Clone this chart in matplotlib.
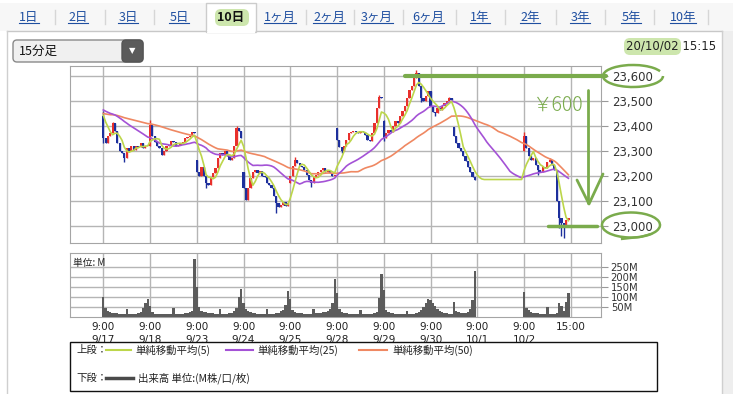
import numpy as np
import pandas as pd
import matplotlib
matplotlib.use("Agg")
import matplotlib.pyplot as plt
from matplotlib.patches import Rectangle, FancyBboxPatch, Arc
from matplotlib.transforms import blended_transform_factory

JP = ['Noto Sans CJK JP', 'DejaVu Sans']
plt.rcParams['font.family'] = ['DejaVu Sans', 'Noto Sans CJK JP']

# ---------------- data ----------------
day_labels = ["9/17", "9/18", "9/23", "9/24", "9/25", "9/28", "9/29", "9/30", "10/1", "10/2"]
bars_per_day = 20
price_ticks = [23000, 23100, 23200, 23300, 23400, 23500, 23600]
volume_ticks = [50, 100, 150, 200, 250]
tab_labels = ["1日", "2日", "3日", "5日", "10日", "1ヶ月", "2ヶ月", "3ヶ月", "6ヶ月",
              "1年", "2年", "3年", "5年", "10年"]
selected_tab = "10日"

# 15-min closes before 9/17 (history that the moving averages start from)
prior_closes = [23450, 23440, 23430, 23420, 23430, 23425, 23435, 23440, 23430, 23420,
                23430, 23440, 23445, 23440, 23430, 23425, 23430, 23435, 23440, 23445,
                23450, 23445, 23440, 23435, 23440,
                23460, 23470, 23475, 23480, 23470, 23465, 23460, 23455, 23460, 23470,
                23475, 23470, 23465, 23460, 23465, 23470, 23475, 23480, 23475, 23470,
                23465, 23460, 23465, 23470]

close_0917 = [23350, 23330, 23360, 23370, 23410, 23380, 23330, 23300, 23290, 23270,
              23310, 23300, 23320, 23305, 23320, 23315, 23330, 23310, 23320, 23320]
close_0918 = [23405, 23360, 23335, 23320, 23310, 23285, 23300, 23320, 23325, 23340,
              23335, 23320, 23325, 23330, 23335, 23350, 23355, 23360, 23375, 23370]
close_0923 = [23215, 23200, 23235, 23200, 23170, 23165, 23195, 23210, 23230, 23270,
              23290, 23285, 23300, 23280, 23265, 23270, 23320, 23390, 23380, 23350]
close_0924 = [23150, 23105, 23150, 23190, 23215, 23225, 23210, 23220, 23200, 23195,
              23170, 23165, 23150, 23120, 23090, 23075, 23085, 23095, 23080, 23090]
close_0925 = [23200, 23240, 23265, 23250, 23240, 23235, 23225, 23205, 23185, 23170,
              23195, 23205, 23215, 23225, 23230, 23215, 23225, 23210, 23200, 23205]
close_0928 = [23345, 23315, 23300, 23320, 23345, 23370, 23375, 23380, 23375, 23370,
              23380, 23375, 23365, 23345, 23340, 23370, 23410, 23470, 23515, 23510]
close_0929 = [23350, 23370, 23385, 23375, 23400, 23420, 23410, 23440, 23460, 23480,
              23510, 23545, 23560, 23590, 23612, 23560, 23510, 23500, 23520, 23540]
close_0930 = [23480, 23455, 23450, 23470, 23465, 23480, 23490, 23500, 23510, 23505,
              23360, 23330, 23310, 23300, 23280, 23260, 23235, 23215, 23195, 23185]
close_1001 = [23185] * 20   # no trading: price held flat
close_1002 = [23360, 23310, 23280, 23265, 23270, 23245, 23225, 23215, 23235, 23230,
              23255, 23265, 23245, 23225, 23100, 23030, 23010, 23005, 23025, 23030]

# opens that differ from the previous close (gaps)
open_gaps = {("9/17", 0): 23440, ("9/23", 0): 23265, ("9/24", 0): 23215,
             ("9/25", 0): 23170, ("9/28", 0): 23390, ("9/29", 0): 23420,
             ("9/30", 10): 23395, ("10/2", 0): 23300}
# visible wick extremes (high, low)
wick_extremes = {("9/17", 0): (23460, 23330), ("9/17", 4): (23415, 23370),
                 ("9/17", 9): (23290, 23255), ("9/18", 0): (23425, 23320),
                 ("9/23", 4): (23200, 23150), ("9/23", 17): (23400, 23320),
                 ("9/24", 14): (23120, 23050), ("9/25", 2): (23275, 23240),
                 ("9/25", 9): (23185, 23155), ("9/28", 2): (23315, 23290),
                 ("9/28", 18): (23522, 23470), ("9/29", 0): (23425, 23340),
                 ("9/29", 14): (23622, 23590), ("9/29", 16): (23560, 23495),
                 ("9/30", 2): (23455, 23440), ("9/30", 8): (23515, 23500),
                 ("10/2", 0): (23375, 23300), ("10/2", 6): (23245, 23205),
                 ("10/2", 11): (23272, 23255), ("10/2", 15): (23100, 22990),
                 ("10/2", 16): (23030, 22960), ("10/2", 17): (23010, 22950)}

vol_0917 = [100, 42, 30, 25, 20, 18, 17, 15, 14, 14, 37, 14, 12, 12, 14, 18, 25, 42, 67, 88]
vol_0918 = [55, 22, 14, 12, 12, 11, 11, 12, 12, 13, 45, 15, 12, 12, 14, 16, 18, 22, 30, 290]
vol_0923 = [150, 50, 30, 25, 22, 20, 18, 16, 15, 15, 38, 15, 13, 14, 16, 20, 28, 45, 100, 137]
vol_0924 = [70, 37, 28, 22, 18, 16, 15, 14, 14, 14, 37, 14, 13, 14, 16, 20, 26, 35, 58, 128]
vol_0925 = [90, 35, 25, 20, 18, 16, 15, 15, 14, 14, 37, 16, 18, 20, 22, 25, 30, 40, 70, 188]
vol_0928 = [117, 40, 25, 20, 17, 15, 14, 14, 13, 13, 35, 14, 12, 12, 13, 15, 18, 25, 94, 213]
vol_0929 = [133, 32, 22, 18, 16, 15, 14, 14, 13, 13, 28, 14, 13, 14, 16, 22, 32, 50, 70, 88]
vol_0930 = [85, 70, 52, 38, 28, 22, 18, 16, 15, 14, 72, 28, 22, 20, 18, 20, 25, 40, 85, 230]
vol_1001 = [0] * 20
vol_1002 = [125, 45, 32, 25, 20, 18, 16, 15, 14, 14, 48, 14, 12, 12, 20, 70, 55, 30, 72, 118]

closes_by_day = [close_0917, close_0918, close_0923, close_0924, close_0925,
                 close_0928, close_0929, close_0930, close_1001, close_1002]
vols_by_day = [vol_0917, vol_0918, vol_0923, vol_0924, vol_0925,
               vol_0928, vol_0929, vol_0930, vol_1001, vol_1002]

# ---------------- derived series ----------------
closes = np.array(sum(closes_by_day, []), dtype=float)
volumes = np.array(sum(vols_by_day, []), dtype=float)
n = len(closes)
opens = np.concatenate([[prior_closes[-1]], closes[:-1]])
for (d, b), v in open_gaps.items():
    opens[day_labels.index(d) * bars_per_day + b] = v
highs = np.maximum(opens, closes)
lows = np.minimum(opens, closes)
for (d, b), (h, l) in wick_extremes.items():
    i = day_labels.index(d) * bars_per_day + b
    highs[i] = max(highs[i], h)
    lows[i] = min(lows[i], l)

full = pd.Series(list(prior_closes) + list(closes))
sma5 = full.rolling(5).mean().iloc[len(prior_closes):].values
sma25 = full.rolling(25).mean().iloc[len(prior_closes):].values
sma50 = full.rolling(50).mean().iloc[len(prior_closes):].values

# ---------------- figure ----------------
W, H = 733, 394
fig = plt.figure(figsize=(W / 100, H / 100), dpi=100)
fig.patch.set_facecolor("white")

bg = fig.add_axes([0, 0, 1, 1], zorder=-1)
fg = fig.add_axes([0, 0, 1, 1], zorder=10)
for a in (bg, fg):
    a.set_xlim(0, W)
    a.set_ylim(H, 0)
    a.axis("off")
fg.patch.set_visible(False)

GREEN = "#7aab4c"
HIGHLIGHT = "#cde6ad"
RED = "#e8302c"
BLUE = "#1d2f9c"
GRID = "#b5b5b5"

# tab bar
bg.add_patch(Rectangle((0, 3), W, 28, facecolor="#f7f7f7", edgecolor="none"))
bg.add_patch(Rectangle((722, 31), 11, H - 31, facecolor="#eeeeee", edgecolor="none"))
bg.plot([7, 206], [31, 31], color="#c8c8c8", lw=1)
bg.plot([256, 722], [31, 31], color="#c8c8c8", lw=1)
bg.plot([7, 7], [31, H], color="#cfcfcf", lw=1)
bg.plot([722, 722], [31, H], color="#cfcfcf", lw=1)
bg.add_patch(Rectangle((206, 3), 50, 29, facecolor="white", edgecolor="#cccccc", lw=1))
bg.add_patch(Rectangle((206.6, 30), 48.8, 3, facecolor="white", edgecolor="none"))
bg.add_patch(FancyBboxPatch((215, 9), 34, 17, boxstyle="round,pad=0,rounding_size=6",
                            facecolor=HIGHLIGHT, edgecolor="none"))
bg.add_patch(FancyBboxPatch((624, 38), 57, 17, boxstyle="round,pad=0,rounding_size=6",
                            facecolor=HIGHLIGHT, edgecolor="none"))

tab_centers = [29, 78, 128, 179, 231, 280, 329, 377, 428, 480, 530, 580, 631, 683]
separators = [55, 105, 154, 306, 354, 403, 456, 505, 556, 605, 654, 708]
for sx in separators:
    bg.plot([sx, sx], [10, 24], color="#d6d6d6", lw=1)
tab_texts = []
for lab, cx in zip(tab_labels, tab_centers):
    sel = lab == selected_tab
    t = fg.text(cx, 17, lab, ha="center", va="center", fontsize=9, family=JP,
                color="#111111" if sel else "#1f4fa0",
                fontweight="bold" if sel else "normal")
    if not sel:
        tab_texts.append(t)

# dropdown
bg.add_patch(FancyBboxPatch((13, 40), 130, 22, boxstyle="round,pad=0,rounding_size=4",
                            facecolor="#f0f0f0", edgecolor="#8a8a8a", lw=1))
bg.add_patch(FancyBboxPatch((122, 40), 21, 22, boxstyle="round,pad=0,rounding_size=4",
                            facecolor="#5b5b5b", edgecolor="#555555", lw=1))
fg.text(132.5, 51, "▼", ha="center", va="center", fontsize=6, color="white")
fg.text(19, 51, "15分足", ha="left", va="center", fontsize=9, family=JP, color="#111111")
fg.text(716, 46, "20/10/02 15:15", ha="right", va="center", fontsize=8.5, color="#222222")

# ---------------- price axes ----------------
px_per_bar = (524 - 103.3) / 180
x0 = (70 - 103.3) / px_per_bar
x1 = (601 - 103.3) / px_per_bar
ax = fig.add_axes([70 / W, 1 - 243 / H, 531 / W, 177 / H])
ax.set_xlim(x0, x1)
ax.set_ylim(22931, 23639)
day_ticks = [i * bars_per_day for i in range(len(day_labels))] + [n]
ax.set_xticks(day_ticks)
ax.set_xticklabels([])
ax.tick_params(axis="x", length=0)
ax.yaxis.tick_right()
ax.set_yticks(price_ticks)
ax.set_yticklabels([f"{v:,}" for v in price_ticks], fontsize=8.5, color="#333333")
ax.tick_params(axis="y", length=5, color="#999999", pad=3)
ax.grid(True, color=GRID, lw=1)
ax.set_axisbelow(True)
for s in ax.spines.values():
    s.set_color("#a5a5a5")

x = np.arange(n)
traded = volumes > 0
up = closes >= opens
for color, mask in ((RED, up & traded), (BLUE, (~up) & traded)):
    ax.vlines(x[mask], lows[mask], highs[mask], color=color, lw=1.0, zorder=3)
    ax.bar(x[mask], np.maximum(np.abs(closes[mask] - opens[mask]), 5),
           bottom=np.minimum(opens[mask], closes[mask]), width=0.95,
           color=color, lw=0, zorder=3)

ax.plot(x, sma50, color="#ef8862", lw=1.2, zorder=4)
ax.plot(x, sma25, color="#a452d6", lw=1.2, zorder=4)
ax.plot(x, sma5, color="#bcd64a", lw=1.2, zorder=4)

# ---------------- volume axes ----------------
axv = fig.add_axes([70 / W, 1 - 316.7 / H, 531 / W, 63.4 / H])
axv.set_xlim(x0, x1)
axv.set_ylim(0, 317)
axv.bar(x, volumes, width=1.0, color="#5c5c5c", lw=0, zorder=3)
axv.set_xticks(day_ticks)
axv.set_xticklabels([f"9:00\n{d}" for d in day_labels] + ["15:00"],
                    fontsize=7.5, color="#222222", linespacing=1.4, va="top")
axv.tick_params(axis="x", length=0, pad=4)
axv.yaxis.tick_right()
axv.set_yticks(volume_ticks)
axv.set_yticklabels([f"{v}M" for v in volume_ticks], fontsize=7.2, color="#333333")
axv.tick_params(axis="y", length=5, color="#999999", pad=2)
axv.grid(True, color=GRID, lw=1)
axv.set_axisbelow(True)
for s in axv.spines.values():
    s.set_color("#a5a5a5")
axv.text(0.006, 0.93, "単位: M", transform=axv.transAxes, ha="left", va="top",
         fontsize=7, family=JP, color="#222222", zorder=5)

# ---------------- legend box ----------------
fg.add_patch(Rectangle((70, 342), 587, 49, facecolor="white", edgecolor="#111111", lw=1))
ly1, ly2 = 350, 378
fg.text(76, ly1, "上段：", fontsize=7.5, family=JP, va="center", color="#222222")
for (xa, xb, tx, col, lab) in ((106, 131, 135, "#bcd64a", "単純移動平均(5)"),
                               (226, 253, 257, "#a452d6", "単純移動平均(25)"),
                               (359, 387, 392, "#ef8862", "単純移動平均(50)")):
    fg.plot([xa, xb], [ly1, ly1], color=col, lw=1.5)
    fg.text(tx, ly1, lab, fontsize=7.5, family=JP, va="center", color="#222222")
fg.text(76, ly2, "下段：", fontsize=7.5, family=JP, va="center", color="#222222")
fg.plot([106, 133], [ly2, ly2], color="#4a4a4a", lw=2.5)
fg.text(138, ly2, "出来高 単位:(M株/口/枚)", fontsize=7.5, family=JP, va="center",
        color="#222222")

# ---------------- hand-drawn annotations ----------------
tr = blended_transform_factory(fg.transData, ax.transData)
fg.plot([405, 606], [23600, 23600], transform=tr, color=GREEN, lw=3, clip_on=False,
        solid_capstyle="round")
fg.plot([548, 597], [23000, 23000], transform=tr, color=GREEN, lw=2.5, clip_on=False,
        solid_capstyle="round")
fg.plot([588, 588], [90, 203], color=GREEN, lw=2, solid_capstyle="round")
fg.plot([577, 589, 603], [180, 204, 174], color=GREEN, lw=2, solid_capstyle="round",
        solid_joinstyle="round")
fg.text(532, 105, "￥600", fontsize=14, family=JP, color=GREEN, va="center",
        fontweight="light")
fg.add_patch(Arc((633, 76), 60, 22, theta1=0, theta2=350, color=GREEN, lw=1.8))
fg.add_patch(Arc((631, 225), 58, 25, theta1=-40, theta2=320, color=GREEN, lw=1.8))
fg.plot([651, 640, 622], [234, 237, 239], color=GREEN, lw=1.6)

# underline for link tabs
fig.canvas.draw()
inv = fg.transData.inverted()
for t in tab_texts:
    bb = t.get_window_extent()
    (xa, ya), (xb, yb) = inv.transform([[bb.x0, bb.y0], [bb.x1, bb.y1]])
    fg.plot([xa, xb], [ya - 0.5, ya - 0.5], color="#1f4fa0", lw=0.8)

fig.savefig("out.png", dpi=100)
